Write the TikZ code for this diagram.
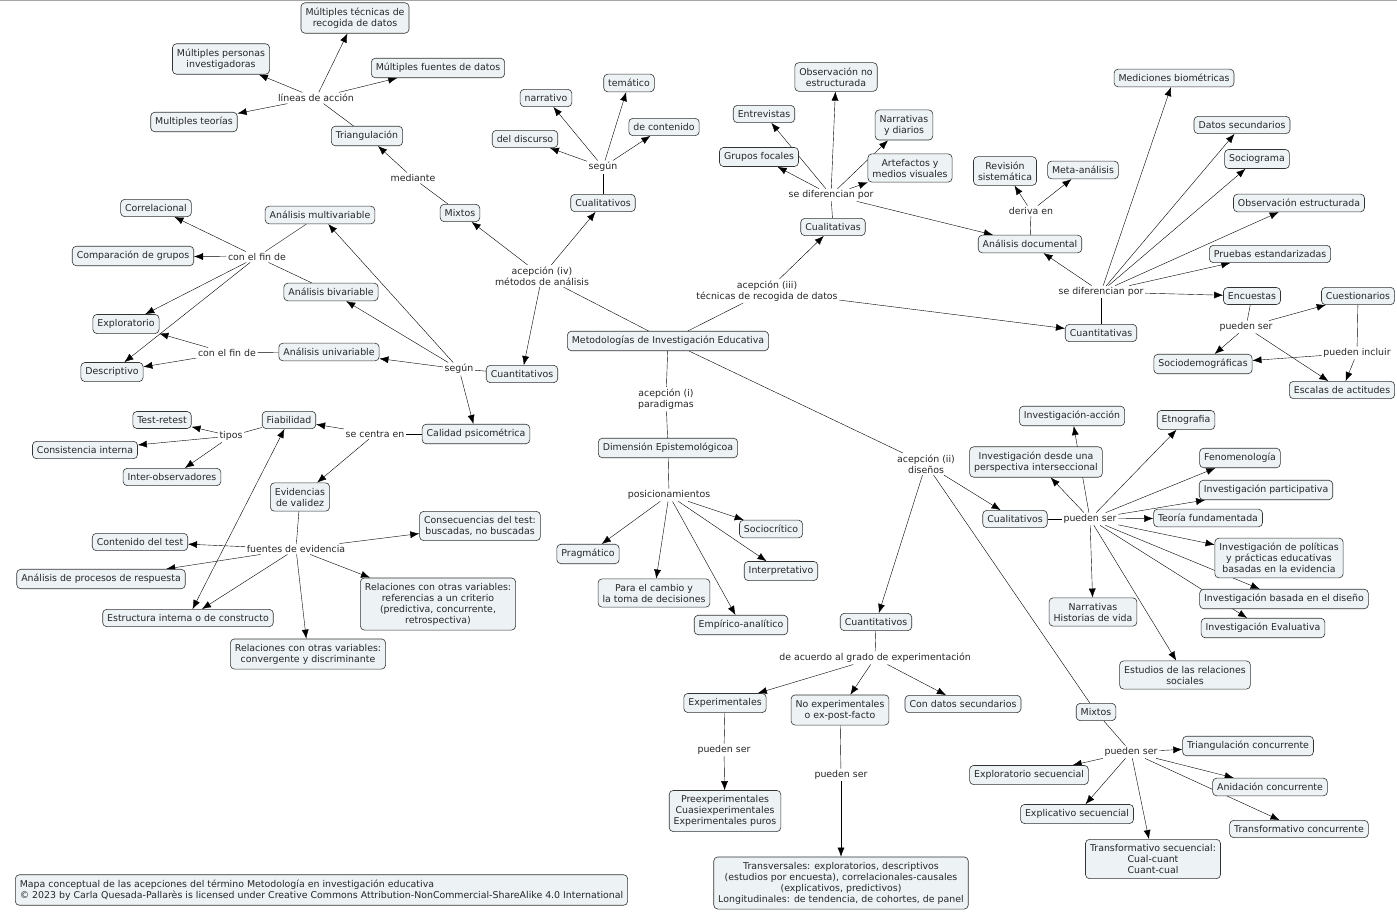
\documentclass[tikz,border=0pt]{standalone}
\usepackage{fontspec}
\setmainfont{DejaVu Sans}
\usetikzlibrary{arrows.meta,backgrounds}
\definecolor{cmapfill}{HTML}{EDF2F5}
\newcommand\mapfont{\fontsize{9.4}{11}\selectfont}
\tikzset{
concept/.style={
  draw=black!80,
  fill=cmapfill,
  rounded corners=4pt,
  align=center,
  inner xsep=4.5pt,
  inner ysep=5pt,
  text=black!85,
  font=\mapfont
  },
linkph/.style={
  inner sep=1.5pt,
  align=center,
  text=black!85,
  font=\mapfont
  }
}

\begin{document}
\begin{tikzpicture}[x=1pt, y=-1pt, >={Latex[length=9pt,width=7pt]}, line width=0.6pt]
\useasboundingbox (0,0) rectangle (1397,912);
\draw[gray!70, line width=1.5pt] (0,0.75) -- (1397,0.75);

% acepcion (iv)
\node[concept] (mtec) at (355,18) {Múltiples técnicas de\\recogida de datos};
\node[concept] (mper) at (221,59) {Múltiples personas\\investigadoras};
\node[concept] (mteo) at (194,122) {Multiples teorías};
\node[concept] (mfue) at (438,68) {Múltiples fuentes de datos};
\node[linkph] (lineas) at (316,98) {líneas de acción};
\node[concept] (triang) at (367,136) {Triangulación};
\node[linkph] (mediante) at (413,178) {mediante};
\node[concept] (mixL) at (460,213) {Mixtos};
\node[concept] (cualL) at (603,203) {Cualitativos};
\node[linkph] (segunT) at (603,167) {según};
\node[concept] (narr) at (546,98) {narrativo};
\node[concept] (tema) at (629,83) {temático};
\node[concept] (disc) at (525,139) {del discurso};
\node[concept] (cont) at (664,127) {de contenido};
\node[linkph] (acepIV) at (542,276) {acepción (iv)\\métodos de análisis};

\node[concept] (meto) at (668,341) {Metodologías de Investigación Educativa};
\node[concept] (cuanL) at (522,374) {Cuantitativos};
\node[linkph] (segunL) at (459,369) {según};
\node[concept] (amul) at (320,215) {Análisis multivariable};
\node[concept] (abiv) at (331,292) {Análisis bivariable};
\node[concept] (auni) at (329,352) {Análisis univariable};
\node[linkph] (finA) at (257,257) {con el fin de};
\node[linkph] (finB) at (227,353) {con el fin de};
\node[concept] (correl) at (156,208) {Correlacional};
\node[concept] (compg) at (133,256) {Comparación de grupos};
\node[concept] (explo) at (126,324) {Exploratorio};
\node[concept] (descr) at (112,372) {Descriptivo};
\node[concept] (calid) at (476,434) {Calidad psicométrica};
\node[linkph] (centra) at (375,434) {se centra en};
\node[concept] (fiab) at (289,420) {Fiabilidad};
\node[linkph] (tipos) at (231,436) {tipos};
\node[concept] (test) at (162,420) {Test-retest};
\node[concept] (consis) at (85,450) {Consistencia interna};
\node[concept] (inter) at (172,477) {Inter-observadores};
\node[concept] (evid) at (300,497) {Evidencias\\de validez};
\node[linkph] (fuentes) at (296,549) {fuentes de evidencia};
\node[concept] (ctest) at (140,542) {Contenido del test};
\node[concept] (aproc) at (101,579) {Análisis de procesos de respuesta};
\node[concept] (estr) at (188,618) {Estructura interna o de constructo};
\node[concept] (relconv) at (308,654) {Relaciones con otras variables:\\convergente y discriminante};
\node[concept] (consec) at (480,526) {Consecuencias del test:\\buscadas, no buscadas};
\node[concept] (relcrit) at (438,604) {Relaciones con otras variables:\\referencias a un criterio\\(predictiva, concurrente,\\retrospectiva)};

% acepcion (i)
\node[linkph] (acepI) at (666,399) {acepción (i)\\paradigmas};
\node[concept] (dimep) at (668,448) {Dimensión Epistemológicoa};
\node[linkph] (posic) at (669,495) {posicionamientos};
\node[concept] (pragm) at (588,554) {Pragmático};
\node[concept] (cambio) at (654,593) {Para el cambio y\\la toma de decisiones};
\node[concept] (empir) at (741,625) {Empírico-analítico};
\node[concept] (socio) at (771,529) {Sociocrítico};
\node[concept] (interp) at (781,571) {Interpretativo};

% acepcion (iii)
\node[linkph] (acepIII) at (767,291) {acepción (iii)\\técnicas de recogida de datos};
\node[concept] (cualT) at (833,227) {Cualitativas};
\node[linkph] (difA) at (831,195) {se diferencian por};
\node[concept] (obsno) at (836,77) {Observación no\\estructurada};
\node[concept] (entrev) at (764,114) {Entrevistas};
\node[concept] (narrd) at (904,125) {Narrativas\\y diarios};
\node[concept] (grupos) at (759,157) {Grupos focales};
\node[concept] (artef) at (910,168) {Artefactos y\\medios visuales};
\node[concept] (adoc) at (1030,244) {Análisis documental};
\node[linkph] (deriva) at (1031,211) {deriva en};
\node[concept] (revis) at (1005,171) {Revisión\\sistemática};
\node[concept] (meta) at (1083,170) {Meta-análisis};
\node[concept] (cuanT) at (1101,333) {Cuantitativas};
\node[linkph] (difB) at (1101,292) {se diferencian por};
\node[concept] (medic) at (1174,78) {Mediciones biométricas};
\node[concept] (datsec) at (1242,125) {Datos secundarios};
\node[concept] (sociog) at (1257,159) {Sociograma};
\node[concept] (obsest) at (1299,203) {Observación estructurada};
\node[concept] (prueb) at (1270,254) {Pruebas estandarizadas};
\node[concept] (encue) at (1252,296) {Encuestas};
\node[concept] (cuest) at (1358,296) {Cuestionarios};
\node[linkph] (puedA) at (1246,327) {pueden ser};
\node[linkph] (incl) at (1357,353) {pueden incluir};
\node[concept] (sociod) at (1203,364) {Sociodemográficas};
\node[concept] (escal) at (1342,390) {Escalas de actitudes};

% acepcion (ii)
\node[linkph] (acepII) at (926,464) {acepción (ii)\\diseños};
\node[concept] (cualR) at (1015,519) {Cualitativos};
\node[linkph] (puedB) at (1090,519) {pueden ser};
\node[concept] (iacc) at (1072,416) {Investigación-acción};
\node[concept] (iinter) at (1036,462) {Investigación desde una\\perspectiva interseccional};
\node[concept] (etno) at (1186,420) {Etnografia};
\node[concept] (fenom) at (1240,458) {Fenomenología};
\node[concept] (ipart) at (1266,490) {Investigación participativa};
\node[concept] (teor) at (1208,518) {Teoría fundamentada};
\node[concept] (ipol) at (1279,558) {Investigación de políticas\\y prácticas educativas\\basadas en la evidencia};
\node[concept] (idis) at (1284,599) {Investigación basada en el diseño};
\node[concept] (nhist) at (1093,612) {Narrativas\\Historias de vida};
\node[concept] (ieval) at (1263,628) {Investigación Evaluativa};
\node[concept] (estud) at (1185,675) {Estudios de las relaciones\\sociales};
\node[concept] (mixR) at (1096,712) {Mixtos};
\node[linkph] (puedC) at (1131,752) {pueden ser};
\node[concept] (triac) at (1248,746) {Triangulación concurrente};
\node[concept] (explos) at (1029,775) {Exploratorio secuencial};
\node[concept] (explis) at (1077,814) {Explicativo secuencial};
\node[concept] (anid) at (1270,787) {Anidación concurrente};
\node[concept] (trafc) at (1299,829) {Transformativo concurrente};
\node[concept] (trafs) at (1153,859) {Transformativo secuencial:\\Cual-cuant\\Cuant-cual};
\node[concept] (cuanB) at (876,622) {Cuantitativos};
\node[linkph] (grado) at (875,658) {de acuerdo al grado de experimentación};
\node[concept] (exper) at (725,703) {Experimentales};
\node[concept] (noexp) at (840,710) {No experimentales\\o ex-post-facto};
\node[concept] (cdat) at (963,704) {Con datos secundarios};
\node[linkph] (puedD) at (724,750) {pueden ser};
\node[linkph] (puedE) at (841,775) {pueden ser};
\node[concept] (preex) at (725,811) {Preexperimentales\\Cuasiexperimentales\\Experimentales puros};
\node[concept] (trans) at (841,883) {Transversales: exploratorios, descriptivos\\(estudios por encuesta), correlacionales-causales\\(explicativos, predictivos)\\Longitudinales: de tendencia, de cohortes, de panel};

\node[concept, align=left, anchor=west] (pie) at (15,890) {Mapa conceptual de las acepciones del término Metodología en investigación educativa\\© 2023 by Carla Quesada-Pallarès is licensed under Creative Commons Attribution-NonCommercial-ShareAlike 4.0 International};

\begin{scope}[on background layer]
\draw (meto) -- (acepIV);
\foreach \t in {mixL,cualL,cuanL} \draw[->] (acepIV) -- (\t);
\draw (mixL) -- (mediante);
\draw[->] (mediante) -- (triang);
\draw (triang) -- (lineas);
\foreach \t in {mtec,mper,mteo,mfue} \draw[->] (lineas) -- (\t);
\draw (cualL) -- (segunT);
\foreach \t in {narr,tema,disc,cont} \draw[->] (segunT) -- (\t);
\draw (cuanL) -- (segunL);
\foreach \t in {amul,abiv,auni,calid} \draw[->] (segunL) -- (\t);
\draw (amul) -- (finA);
\draw (abiv) -- (finA);
\foreach \t in {correl,compg,explo,descr} \draw[->] (finA) -- (\t);
\draw (auni) -- (finB);
\foreach \t in {explo,descr} \draw[->] (finB) -- (\t);
\draw (calid) -- (centra);
\foreach \t in {fiab,evid} \draw[->] (centra) -- (\t);
\draw (fiab) -- (tipos);
\foreach \t in {test,consis,inter} \draw[->] (tipos) -- (\t);
\draw[<->] (fiab) -- (estr);
\draw (evid) -- (fuentes);
\foreach \t in {ctest,aproc,estr,relconv,consec,relcrit} \draw[->] (fuentes) -- (\t);

\draw (meto) -- (acepI);
\draw (acepI) -- (dimep);
\draw (dimep) -- (posic);
\foreach \t in {pragm,cambio,empir,socio,interp} \draw[->] (posic) -- (\t);

\draw (meto) -- (acepIII);
\foreach \t in {cualT,cuanT} \draw[->] (acepIII) -- (\t);
\draw (cualT) -- (difA);
\foreach \t in {obsno,entrev,narrd,grupos,artef,adoc} \draw[->] (difA) -- (\t);
\draw (adoc) -- (deriva);
\foreach \t in {revis,meta} \draw[->] (deriva) -- (\t);
\draw (cuanT) -- (difB);
\foreach \t in {adoc,medic,datsec,sociog,obsest,prueb,encue} \draw[->] (difB) -- (\t);
\draw (encue) -- (puedA);
\foreach \t in {cuest,sociod,escal} \draw[->] (puedA) -- (\t);
\draw (cuest) -- (incl);
\foreach \t in {sociod,escal} \draw[->] (incl) -- (\t);

\draw (meto) -- (acepII);
\foreach \t in {cualR,cuanB} \draw[->] (acepII) -- (\t);
\draw (acepII) -- (mixR);
\draw (cualR) -- (puedB);
\foreach \t in {iacc,iinter,etno,fenom,ipart,teor,ipol,idis,nhist,ieval,estud} \draw[->] (puedB) -- (\t);
\draw (mixR) -- (puedC);
\foreach \t in {triac,explos,explis,anid,trafc,trafs} \draw[->] (puedC) -- (\t);
\draw (cuanB) -- (grado);
\foreach \t in {exper,noexp,cdat} \draw[->] (grado) -- (\t);
\draw (exper) -- (puedD);
\draw[->] (puedD) -- (preex);
\draw (noexp) -- (puedE);
\draw[->] (puedE) -- (trans);
\end{scope}
\end{tikzpicture}
\end{document}
